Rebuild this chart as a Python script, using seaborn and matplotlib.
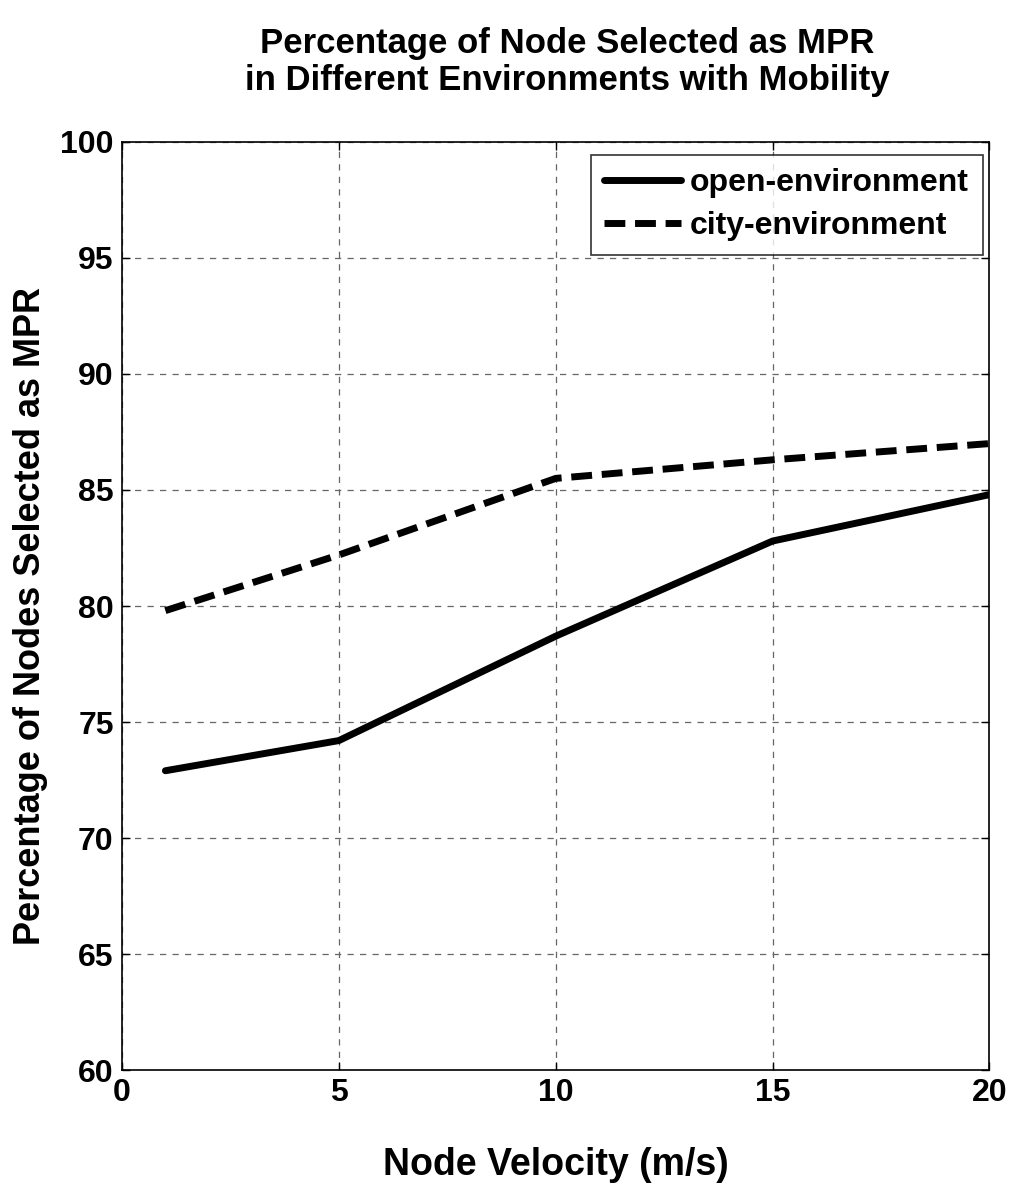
import matplotlib
matplotlib.use("Agg")
import matplotlib.pyplot as plt
import seaborn as sns
import pandas as pd

# Node velocity (m/s) and percentage of nodes chosen as MPR
velocity = [1, 5, 10, 15, 20]
open_env = [72.9, 74.2, 78.7, 82.8, 84.8]
city_env = [79.8, 82.2, 85.5, 86.3, 87.0]
series_names = ["open-environment", "city-environment"]

x_ticks = [0, 5, 10, 15, 20]
y_ticks = [60, 65, 70, 75, 80, 85, 90, 95, 100]

df = pd.DataFrame({
    "velocity": velocity * 2,
    "pct": open_env + city_env,
    "env": [series_names[0]] * len(velocity) + [series_names[1]] * len(velocity),
})

sns.set_theme(style="white")
plt.rcParams["font.family"] = ["Liberation Sans", "DejaVu Sans"]
plt.rcParams["font.weight"] = "bold"
for key in ("text.color", "axes.labelcolor", "xtick.color", "ytick.color"):
    plt.rcParams[key] = "black"

fig = plt.figure(figsize=(10.11, 12), dpi=100)
ax = fig.add_axes([0.1207, 0.1083, 0.858, 0.7734])

sns.lineplot(
    data=df, x="velocity", y="pct", style="env",
    style_order=series_names,
    dashes={series_names[0]: "", series_names[1]: (3.0, 1.4)},
    color="black", linewidth=5, markers=False, ax=ax, legend=True,
)

ax.set_xlim(0, 20)
ax.set_ylim(60, 100)
ax.set_xticks(x_ticks)
ax.set_yticks(y_ticks)
ax.grid(True, color="#666666", linestyle=(0, (5, 5)), linewidth=0.9)
ax.tick_params(direction="in", length=6, width=1, color="black",
               labelsize=23, pad=6, top=True, right=True,
               bottom=True, left=True)
for lbl in ax.get_xticklabels() + ax.get_yticklabels():
    lbl.set_fontweight("bold")
for sp in ax.spines.values():
    sp.set_color("black")
    sp.set_linewidth(1.2)

ax.set_xlabel("Node Velocity (m/s)", fontsize=27, fontweight="bold", va="center")
ax.xaxis.set_label_coords(0.5, -0.102)
ax.set_ylabel("Percentage of Nodes Selected as MPR", fontsize=26,
              fontweight="bold", va="center", ha="center")
ax.yaxis.set_label_coords(-0.106, 0.489)

fig.text(0.561, 0.948,
         "Percentage of Node Selected as MPR\nin Different Environments with Mobility",
         ha="center", va="center", fontsize=25, fontweight="bold",
         linespacing=1.15)

leg = ax.legend(loc="upper right", bbox_to_anchor=(0.992, 0.986),
                borderaxespad=0, fontsize=23, frameon=True, fancybox=False,
                edgecolor="black", handlelength=2.4, labelspacing=0.4,
                handletextpad=0.3, borderpad=0.42)
leg.get_frame().set_linewidth(1.2)
for t in leg.get_texts():
    t.set_fontweight("bold")
for h in leg.get_lines():
    h.set_linewidth(5)

fig.savefig("out.png", dpi=100, facecolor="white")
